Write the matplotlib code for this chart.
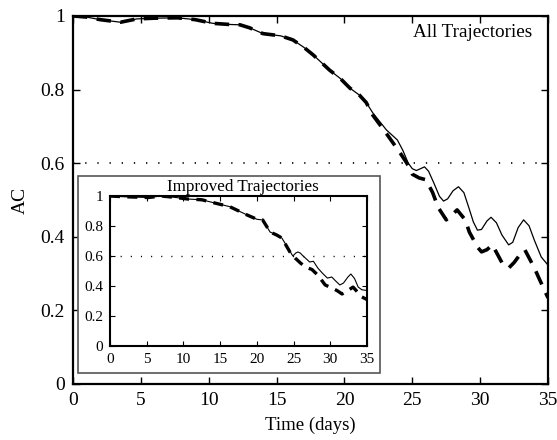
import matplotlib
matplotlib.use("Agg")
import matplotlib.pyplot as plt
from matplotlib.patches import Rectangle

plt.rcParams["font.family"] = ["Liberation Serif", "DejaVu Serif"]

# main panel: all trajectories
t_all_solid = [0, 1, 2, 3.5, 4.7, 6, 7.7, 9, 10.3, 11.5, 12.3, 13, 14, 15.3, 16.2, 17,
               17.7, 18.9, 19.7, 20.4, 21.1, 21.6, 22.1, 23.1, 23.9, 24.3, 24.7, 25.0,
               25.3, 25.6, 25.9, 26.2, 26.6, 27.0, 27.3, 27.6, 28.0, 28.4, 28.8, 29.2,
               29.5, 29.8, 30.1, 30.5, 30.8, 31.2, 31.6, 32.1, 32.4, 32.8, 33.2, 33.6,
               34.0, 34.5, 35]
ac_all_solid = [1.0, 0.997, 0.99, 0.983, 0.992, 0.994, 0.995, 0.99, 0.98, 0.977, 0.976,
                0.968, 0.952, 0.946, 0.935, 0.915, 0.894, 0.853, 0.83, 0.804, 0.785,
                0.765, 0.736, 0.69, 0.663, 0.635, 0.6, 0.585, 0.58, 0.585, 0.59, 0.578,
                0.545, 0.51, 0.497, 0.503, 0.525, 0.536, 0.52, 0.475, 0.44, 0.418, 0.42,
                0.443, 0.453, 0.438, 0.405, 0.378, 0.385, 0.425, 0.446, 0.43, 0.39,
                0.345, 0.323]

t_all_dash = [0, 1, 2, 3.5, 4.7, 6, 7.7, 9, 10.3, 11.5, 12.3, 13, 14, 15.3, 16.2, 17,
              17.7, 18.9, 19.7, 20.4, 21.1, 21.6, 22.1, 23.1, 24.1, 24.6, 25.0, 25.5,
              26.0, 26.5, 26.9, 27.5, 28.0, 28.3, 28.9, 29.2, 29.8, 30.1, 30.5, 30.9,
              31.6, 32.1, 32.5, 32.9, 33.3, 34.0, 34.3, 35]
ac_all_dash = [1.0, 0.997, 0.99, 0.983, 0.992, 0.994, 0.995, 0.99, 0.98, 0.977, 0.976,
               0.968, 0.952, 0.946, 0.935, 0.915, 0.894, 0.853, 0.83, 0.804, 0.785,
               0.765, 0.73, 0.68, 0.628, 0.6, 0.57, 0.56, 0.555, 0.52, 0.48, 0.446,
               0.462, 0.473, 0.446, 0.413, 0.372, 0.359, 0.365, 0.378, 0.33, 0.315,
               0.33, 0.35, 0.364, 0.315, 0.29, 0.234]

# inset: improved trajectories
t_imp_solid = [0, 2, 5.2, 7, 9, 10.6, 12.5, 14.3, 16.3, 18.1, 18.7, 20.0, 20.8, 21.8,
               22.7, 23.4, 24.1, 24.9, 25.3, 25.6, 25.9, 26.3, 27.2, 27.7, 28.3, 28.9,
               29.6, 30.2, 30.7, 31.3, 31.8, 32.4, 32.8, 33.3, 33.8, 34.3, 35]
ac_imp_solid = [1.0, 0.995, 0.99, 1.0, 0.99, 0.98, 0.975, 0.953, 0.929, 0.887, 0.873,
                0.845, 0.84, 0.76, 0.74, 0.72, 0.665, 0.6, 0.62, 0.627, 0.62, 0.6,
                0.56, 0.565, 0.52, 0.487, 0.453, 0.46, 0.435, 0.407, 0.42, 0.46, 0.48,
                0.45, 0.393, 0.375, 0.37]

t_imp_dash = [0, 2, 5.2, 7, 9, 10.6, 12.5, 14.3, 16.3, 18.1, 18.7, 20.0, 20.8, 21.8,
              22.7, 23.4, 24.5, 25.2, 25.9, 26.6, 27.5, 28.3, 29.3, 30.2, 30.9, 31.6,
              32.4, 33.1, 34.3, 35]
ac_imp_dash = [1.0, 0.995, 0.99, 1.0, 0.99, 0.98, 0.975, 0.953, 0.929, 0.887, 0.873,
               0.845, 0.84, 0.76, 0.74, 0.72, 0.627, 0.587, 0.555, 0.527, 0.51, 0.473,
               0.407, 0.387, 0.37, 0.347, 0.37, 0.393, 0.327, 0.31]

threshold = 0.6
x_ticks = [0, 5, 10, 15, 20, 25, 30, 35]
y_ticks = [0, 0.2, 0.4, 0.6, 0.8, 1.0]
y_ticklabels = ["0", "0.2", "0.4", "0.6", "0.8", "1"]

fig = plt.figure(figsize=(5.57, 4.4), dpi=100)

ax = fig.add_axes([0.1311, 0.1273, 0.8528, 0.8364])
ax.plot(t_all_solid, ac_all_solid, color="black", lw=0.9)
ax.plot(t_all_dash, ac_all_dash, color="black", lw=2.6, dashes=(4, 2.6))
ax.axhline(threshold, color="black", lw=1.2, dashes=(0.8, 6.5))
ax.set_xlim(0, 35)
ax.set_ylim(0, 1)
ax.set_xticks(x_ticks)
ax.set_yticks(y_ticks)
ax.set_yticklabels(y_ticklabels)
ax.tick_params(direction="in", top=True, right=True, length=5, width=1,
               labelsize=14, pad=6)
for s in ax.spines.values():
    s.set_linewidth(1.6)
ax.set_xlabel("Time (days)", fontsize=13.5, labelpad=5)
ax.set_ylabel("AC", fontsize=14, labelpad=8)
ax.text(0.966, 0.954, "All Trajectories", transform=ax.transAxes,
        ha="right", va="center", fontsize=13.8)

# white frame behind the inset
box = Rectangle((0.140, 0.152), 0.542, 0.448, transform=fig.transFigure,
                facecolor="white", edgecolor="#555555", lw=1.2, zorder=1)
fig.patches.append(box)

ins = fig.add_axes([0.1975, 0.2136, 0.4614, 0.3409], zorder=2)
ins.plot(t_imp_solid, ac_imp_solid, color="black", lw=0.8)
ins.plot(t_imp_dash, ac_imp_dash, color="black", lw=2.4, dashes=(3, 2.2))
ins.axhline(threshold, color="black", lw=1.0, dashes=(0.8, 6.5))
ins.set_xlim(0, 35)
ins.set_ylim(0, 1)
ins.set_xticks(x_ticks)
ins.set_yticks(y_ticks)
ins.set_yticklabels(y_ticklabels)
ins.tick_params(direction="in", top=True, right=True, length=3.5, width=0.8,
                labelsize=11, pad=5)
for s in ins.spines.values():
    s.set_linewidth(1.5)
fig.text(243 / 557, 1 - 187 / 440, "Improved Trajectories", ha="center",
         va="center", fontsize=12.3, zorder=3)

fig.savefig("out.png", dpi=100)
